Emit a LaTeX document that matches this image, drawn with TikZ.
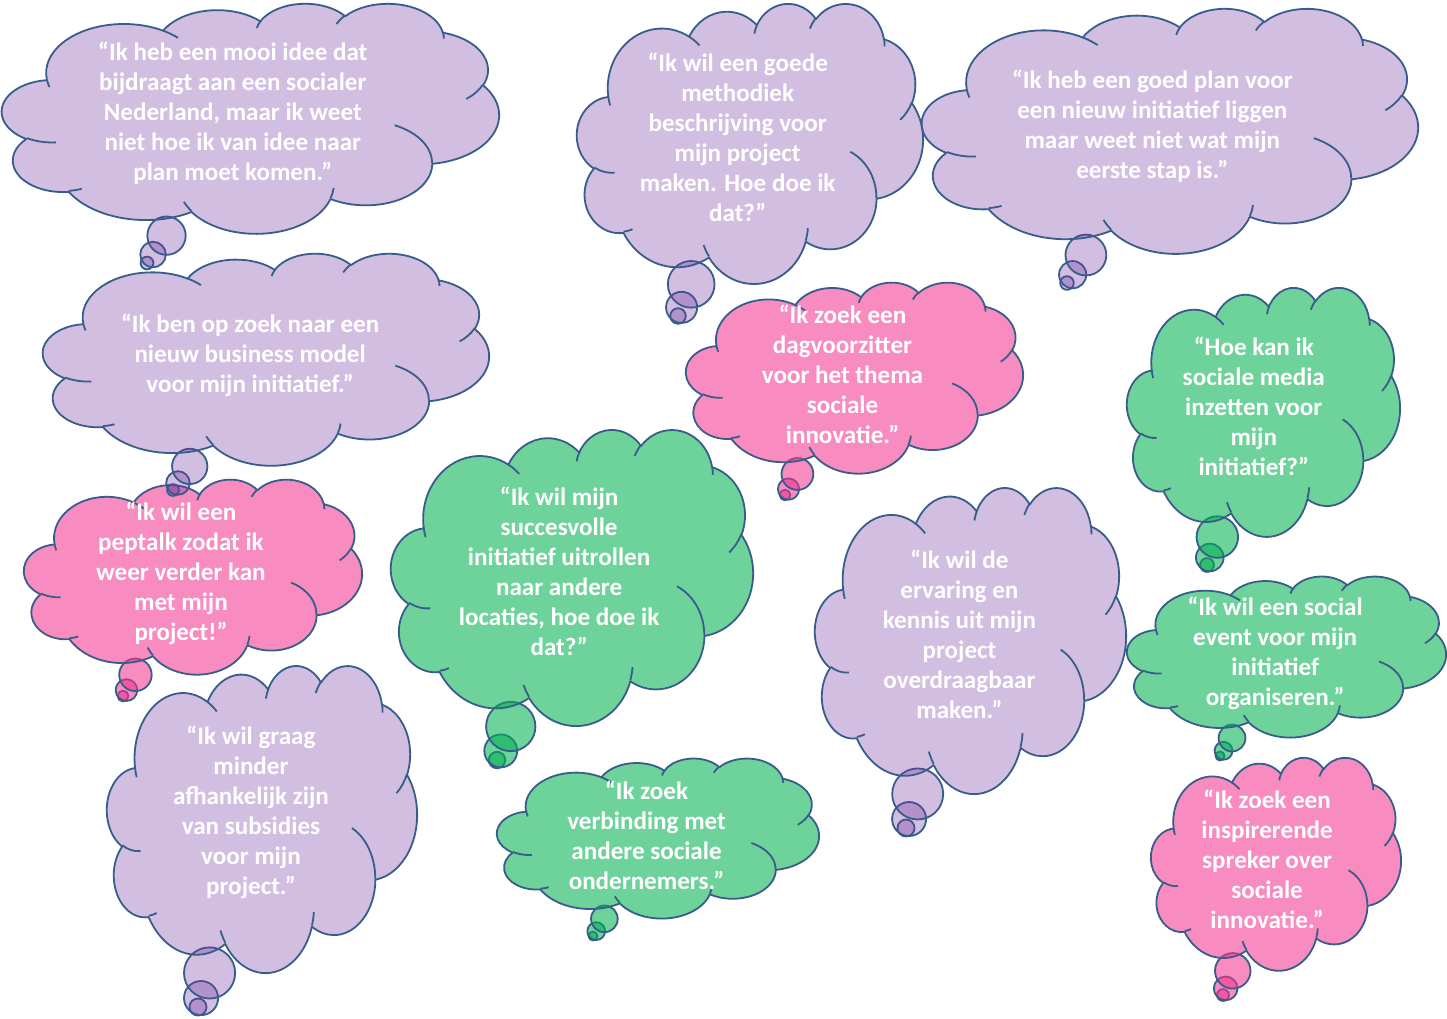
\documentclass[tikz,border=0pt]{standalone}
\usepackage{fontspec}
\setmainfont{Carlito}
\definecolor{outl}{RGB}{56,93,138}
\definecolor{purp}{RGB}{112,48,160}
\definecolor{grn}{RGB}{0,176,80}
\definecolor{pnk}{RGB}{243,51,143}
\tikzset{
  cloudedge/.style={draw=outl, line width=1.8pt, line join=round},
  purplefill/.style={fill=purp, fill opacity=0.31},
  greenfill/.style={fill=grn, fill opacity=0.57},
  pinkfill/.style={fill=pnk, fill opacity=0.57},
  quotetext/.style={text=white, align=center, inner sep=0pt, font=\bfseries\fontsize{25.1}{30}\selectfont},
}
% convert OOXML visual angles to parametric angles
\newcommand\ccconv[5]{%
  \pgfmathsetmacro\ccA{atan2(#2*sin(#4),#3*cos(#4))}%
  \pgfmathsetmacro\ccB{atan2(#2*sin(#4+#5),#3*cos(#4+#5))}%
  \pgfmathsetmacro\ccB{\ccB+360*(\ccB<\ccA)}%
  \expandafter\xdef\csname ccs#1\endcsname{\ccA}%
  \expandafter\xdef\csname cce#1\endcsname{\ccB}%
}
\newcommand\ccarc[3]{arc[x radius=#2, y radius=#3, start angle=\csname ccs#1\endcsname, end angle=\csname cce#1\endcsname]}
\newcommand\cloudpath{(3.900,14.370) \ccarc{a}{6.753}{9.190} \ccarc{b}{5.333}{7.267}
  \ccarc{c}{4.365}{5.945} \ccarc{d}{4.857}{6.595} \ccarc{e}{5.333}{7.273}
  \ccarc{f}{6.775}{9.220} \ccarc{g}{5.785}{7.867} \ccarc{h}{6.752}{9.215}
  \ccarc{i}{7.720}{10.543} \ccarc{j}{4.360}{5.918} \ccarc{k}{4.345}{5.945} -- cycle}
\newcommand\cloudinner{(4.693,26.177) \ccarc{p}{4.345}{5.945}
  (6.928,34.899) \ccarc{q}{4.360}{5.918}
  (16.478,39.090) \ccarc{r}{6.752}{9.215}
  (28.827,34.751) \ccarc{s}{6.752}{9.215}
  (34.129,22.954) \ccarc{t}{5.785}{7.867}
  (41.798,15.354) \ccarc{u}{5.333}{7.273}
  (38.324,5.426) \ccarc{v}{4.857}{6.595}
  (29.078,3.952) \ccarc{w}{4.857}{6.595}
  (22.141,4.720) \ccarc{x}{4.365}{5.945}
  (14.000,5.192) \ccarc{y}{6.753}{9.190}
  (4.127,15.789) \ccarc{z}{6.753}{9.190}}
% #1 x0 #2 y0 #3 w #4 h #5 tip x #6 tip y #7 fill style #8 name #9 text
\newcommand\thought[9]{%
  \pgfmathsetmacro\ccHc{#1+#3/2}%
  \pgfmathsetmacro\ccVc{#2+#4/2}%
  \pgfmathsetmacro\ccAng{atan2(#6-\ccVc,#5-\ccHc)}%
  \pgfmathsetmacro\ccHt{#4/2*cos(\ccAng)}%
  \pgfmathsetmacro\ccWt{#3/2*sin(\ccAng)}%
  \pgfmathsetmacro\ccBng{atan2(\ccWt,\ccHt)}%
  \pgfmathsetmacro\ccGs{\ccHc+#3/2*cos(\ccBng)-#5}%
  \pgfmathsetmacro\ccGz{\ccVc+#4/2*sin(\ccBng)-#6}%
  \pgfmathsetmacro\ccGe{veclen(\ccGs,\ccGz)}%
  \pgfmathsetmacro\ccSS{min(#3,#4)}%
  \pgfmathsetmacro\ccGel{(\ccGe-\ccSS*0.3055556)/3}%
  \pgfmathsetmacro\ccMd{\ccGel+\ccSS/12}%
  \pgfmathsetmacro\ccBg{\ccSS*0.2222222+2*\ccGel}%
  \path[cloudedge,#7] (#5,#6) circle[radius=\ccSS/36];
  \path[cloudedge,#7] ({#5+\ccMd*\ccGs/\ccGe},{#6+\ccMd*\ccGz/\ccGe}) circle[radius=\ccSS/18];
  \path[cloudedge,#7] ({#5+\ccBg*\ccGs/\ccGe},{#6+\ccBg*\ccGz/\ccGe}) circle[radius=\ccSS/12];
  \begin{scope}[shift={(#1,#2)},xscale=#3/43.2,yscale=#4/43.2]
    \path[cloudedge,#7] \cloudpath;
    \draw[cloudedge] \cloudinner;
  \end{scope}
  \node[quotetext] (#8) at ({#1+0.4644*#3},{#2+0.4768*#4+1}) {#9};
}
\begin{document}
\begin{tikzpicture}[x=1pt,y=-1pt]
\ccconv{a}{6.753}{9.190}{-190.4875}{123.7805}
\ccconv{b}{5.333}{7.267}{-144.1024}{89.9452}
\ccconv{c}{4.365}{5.945}{-145.8079}{99.7230}
\ccconv{d}{4.857}{6.595}{-130.9861}{117.2417}
\ccconv{e}{5.333}{7.273}{-78.7089}{109.0269}
\ccconv{f}{6.775}{9.220}{-46.2673}{130.2690}
\ccconv{g}{5.785}{7.867}{0.6250}{114.0333}
\ccconv{h}{6.752}{9.215}{22.4516}{115.1726}
\ccconv{i}{7.720}{10.543}{66.2426}{75.7110}
\ccconv{j}{4.360}{5.918}{-274.9421}{146.7356}
\ccconv{k}{4.345}{5.945}{-246.8285}{152.5189}
\ccconv{p}{4.345}{5.945}{86.7420}{26.4295}
\ccconv{q}{4.360}{5.918}{73.6105}{11.4475}
\ccconv{r}{6.752}{9.215}{137.6242}{14.0811}
\ccconv{s}{6.752}{9.215}{6.4533}{15.9984}
\ccconv{t}{5.785}{7.867}{-70.2924}{70.9174}
\ccconv{u}{5.333}{7.273}{30.3180}{27.7515}
\ccconv{v}{4.857}{6.595}{-13.7443}{14.8589}
\ccconv{w}{4.857}{6.595}{-149.1815}{18.1954}
\ccconv{x}{4.365}{5.945}{-163.4943}{17.6864}
\ccconv{y}{6.753}{9.190}{-66.7070}{12.3194}
\ccconv{z}{6.753}{9.190}{157.6544}{11.8582}
\fill[white] (0,0) rectangle (1447,1018);
\useasboundingbox (0,0) rectangle (1447,1018);
\thought{2}{3}{497}{230}{147}{263}{purplefill}{q1}{“Ik heb een mooi idee dat\\bijdraagt aan een socialer\\Nederland, maar ik weet\\niet hoe ik van idee naar\\plan moet komen.”}
\thought{577}{3}{346}{280}{678}{316}{purplefill}{q5}{“Ik wil een goede\\methodiek\\beschrijving voor\\mijn project\\maken. Hoe doe ik\\dat?”}
\thought{922}{8}{496}{245}{1067}{283}{purplefill}{q6}{“Ik heb een goed plan voor\\een nieuw initiatief liggen\\maar weet niet wat mijn\\eerste stap is.”}
\thought{24}{479}{338}{195}{123}{696}{pinkfill}{q3}{“Ik wil een\\peptalk zodat ik\\weer verder kan\\met mijn\\project!”}
\thought{43}{253}{446}{212}{173}{490}{purplefill}{q2}{“Ik ben op zoek naar een\\nieuw business model\\voor mijn initiatief.”}
\thought{107}{665}{310}{307}{198}{1007}{purplefill}{q4}{“Ik wil graag\\minder\\afhankelijk zijn\\van subsidies\\voor mijn\\project.”}
\thought{686}{282}{337}{191}{785}{495}{pinkfill}{q7}{“Ik zoek een\\dagvoorzitter\\voor het thema\\sociale\\innovatie.”}
\thought{1127}{287}{273}{249}{1207}{565}{greenfill}{q8}{“Hoe kan ik\\sociale media\\inzetten voor\\mijn\\initiatief?”}
\thought{391}{429}{362}{296}{497}{760}{greenfill}{q9}{“Ik wil mijn\\succesvolle\\initiatief uitrollen\\naar andere\\locaties, hoe doe ik\\dat?”}
\thought{815}{487}{311}{306}{906}{828}{purplefill}{q10}{“Ik wil de\\ervaring en\\kennis uit mijn\\project\\overdraagbaar\\maken.”}
\thought{1127}{576}{319}{161}{1220}{756}{greenfill}{q11}{“Ik wil een social\\event voor mijn\\initiatief\\organiseren.”}
\thought{497}{758}{322}{160}{593}{936}{greenfill}{q12}{“Ik zoek\\verbinding met\\andere sociale\\ondernemers.”}
\thought{1151}{757}{250}{213}{1223}{995}{pinkfill}{q13}{“Ik zoek een\\inspirerende\\spreker over\\sociale\\innovatie.”}
\end{tikzpicture}
\end{document}
